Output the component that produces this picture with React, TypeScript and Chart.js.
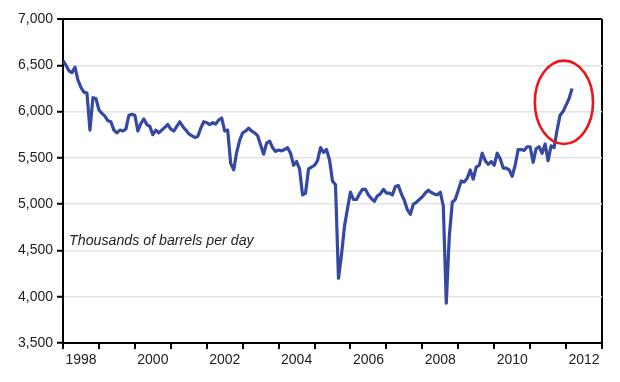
import React, { useEffect, useRef } from "react";
import { Chart, registerables } from "chart.js";

Chart.register(...registerables);

// Monthly production, thousands of barrels per day (Jan of each year onward)
const START_YEAR = 1998;
const y1998 = [6550, 6500, 6440, 6420, 6480, 6340, 6260, 6210, 6200, 5800, 6150, 6140];
const y1999 = [6020, 5980, 5950, 5900, 5890, 5800, 5770, 5800, 5790, 5810, 5960, 5970];
const y2000 = [5960, 5790, 5870, 5920, 5860, 5840, 5750, 5800, 5770, 5800, 5830, 5860];
const y2001 = [5810, 5790, 5840, 5890, 5840, 5800, 5760, 5740, 5720, 5730, 5820, 5890];
const y2002 = [5880, 5860, 5880, 5865, 5910, 5930, 5790, 5800, 5440, 5370, 5560, 5690];
const y2003 = [5770, 5790, 5820, 5790, 5770, 5740, 5640, 5540, 5660, 5680, 5610, 5570];
const y2004 = [5585, 5575, 5590, 5610, 5550, 5420, 5460, 5380, 5100, 5120, 5380, 5400];
const y2005 = [5420, 5470, 5610, 5560, 5590, 5480, 5250, 5210, 4200, 4450, 4760, 4950];
const y2006 = [5130, 5050, 5050, 5110, 5160, 5160, 5100, 5060, 5030, 5090, 5110, 5160];
const y2007 = [5120, 5120, 5100, 5190, 5200, 5110, 5040, 4940, 4890, 5000, 5020, 5050];
const y2008 = [5080, 5120, 5150, 5125, 5110, 5100, 5130, 4980, 3930, 4650, 5020, 5050];
const y2009 = [5150, 5250, 5240, 5280, 5370, 5270, 5400, 5420, 5550, 5470, 5430, 5460];
const y2010 = [5420, 5550, 5490, 5390, 5390, 5370, 5300, 5420, 5590, 5590, 5580, 5620];
const y2011 = [5620, 5450, 5600, 5620, 5550, 5650, 5470, 5630, 5610, 5800, 5960, 6000];
const y2012 = [6070, 6140, 6250];

const production = [
  ...y1998, ...y1999, ...y2000, ...y2001, ...y2002, ...y2003, ...y2004, ...y2005,
  ...y2006, ...y2007, ...y2008, ...y2009, ...y2010, ...y2011, ...y2012,
];

const X_MIN = 1998;
const X_MAX = 2013;
const Y_MIN = 3500;
const Y_MAX = 7000;
const Y_STEP = 500;
const unitLabel = "Thousands of barrels per day";
// highlight ellipse (data units)
const highlight = { x: 2011.94, y: 6100, rx: 0.81, ry: 450 };

const FONT = "'Liberation Sans', Arial, Helvetica, sans-serif";

export default function App() {
  const ref = useRef<HTMLCanvasElement | null>(null);

  useEffect(() => {
    if (!ref.current) return;
    const points = production.map((v, i) => ({ x: START_YEAR + i / 12, y: v }));

    const overlay = {
      id: "overlay",
      afterDatasetsDraw(chart: any) {
        const { ctx, scales } = chart;
        const xs = scales.x;
        const ys = scales.y;
        ctx.save();
        // unit label
        ctx.font = `italic 14.2px ${FONT}`;
        ctx.fillStyle = "#222";
        ctx.textAlign = "left";
        ctx.textBaseline = "middle";
        ctx.fillText(unitLabel, xs.getPixelForValue(1998.17), ys.getPixelForValue(4600));
        // highlight ellipse
        const cx = xs.getPixelForValue(highlight.x);
        const cy = ys.getPixelForValue(highlight.y);
        const rx = Math.abs(xs.getPixelForValue(highlight.x + highlight.rx) - cx);
        const ry = Math.abs(ys.getPixelForValue(highlight.y + highlight.ry) - cy);
        ctx.beginPath();
        ctx.ellipse(cx, cy, rx, ry, 0, 0, Math.PI * 2);
        ctx.strokeStyle = "#e8181c";
        ctx.lineWidth = 2.6;
        ctx.stroke();
        ctx.restore();
      },
    };

    const chart = new Chart(ref.current, {
      type: "line",
      data: {
        datasets: [
          {
            data: points,
            borderColor: "#3548a3",
            borderWidth: 3.2,
            pointRadius: 0,
            tension: 0,
            borderJoinStyle: "round",
            fill: false,
          },
        ],
      },
      options: {
        animation: false,
        responsive: false,
        devicePixelRatio: 1,
        layout: { padding: { top: 19, right: 18, left: 0, bottom: 0 } },
        plugins: { legend: { display: false }, tooltip: { enabled: false } },
        scales: {
          x: {
            type: "linear",
            min: X_MIN,
            max: X_MAX,
            afterFit: (s: any) => {
              s.height = 39;
            },
            ticks: {
              stepSize: 1,
              autoSkip: false,
              maxRotation: 0,
              labelOffset: 18,
              padding: 3,
              color: "#222",
              font: { family: FONT, size: 14 },
              callback: (v: any) => (v % 2 === 0 && v < X_MAX ? String(v) : ""),
            },
            grid: {
              drawOnChartArea: true,
              tickLength: 6,
              tickWidth: 2,
              tickColor: "#000",
              lineWidth: 2,
              color: (c: any) => (c.tick && c.tick.value === X_MAX ? "#000" : "rgba(0,0,0,0)"),
            },
            border: { display: true, color: "#000", width: 2 },
          },
          y: {
            min: Y_MIN,
            max: Y_MAX,
            afterFit: (s: any) => {
              s.width = 63;
            },
            ticks: {
              stepSize: Y_STEP,
              padding: 4,
              color: "#222",
              font: { family: FONT, size: 14 },
              callback: (v: any) => Number(v).toLocaleString("en-US"),
            },
            grid: {
              tickLength: 6,
              tickWidth: 2,
              tickColor: "#000",
              lineWidth: (c: any) => (c.tick && c.tick.value === Y_MAX ? 2 : 1.5),
              color: (c: any) =>
                c.tick && c.tick.value === Y_MAX ? "#000" : "#e4e4e4",
            },
            border: { display: true, color: "#000", width: 2 },
          },
        },
      },
      plugins: [overlay],
    } as any);
    return () => chart.destroy();
  }, []);

  return (
    <div style={{ position: "absolute", left: 0, top: 0, width: 620, height: 382, background: "#fff" }}>
      <canvas ref={ref} width={620} height={382} style={{ display: "block" }} />
    </div>
  );
}
